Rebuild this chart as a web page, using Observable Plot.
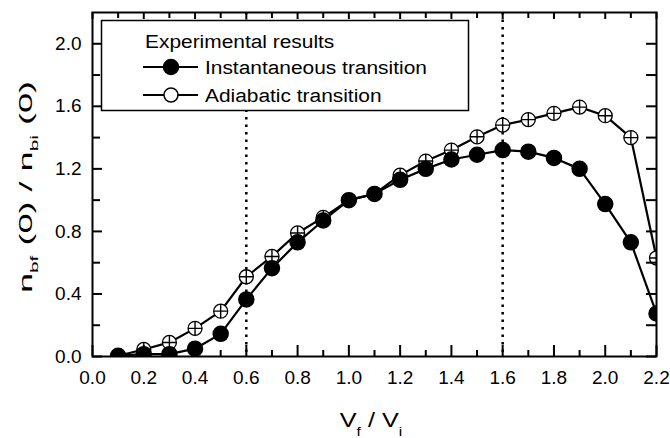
<!DOCTYPE html>
<html>
<head>
<meta charset="utf-8">
<script src="https://cdn.jsdelivr.net/npm/d3@7"></script>
<script src="https://cdn.jsdelivr.net/npm/@observablehq/plot@0.6"></script>
<style>
  html, body { margin: 0; padding: 0; background: #fff; }
  svg text { font-family: "Liberation Sans", Arial, sans-serif; }
</style>
</head>
<body>
<div id="chart"></div>
<script>
// ---- data ----
const ratio = [0.1, 0.2, 0.3, 0.4, 0.5, 0.6, 0.7, 0.8, 0.9, 1.0, 1.1,
               1.2, 1.3, 1.4, 1.5, 1.6, 1.7, 1.8, 1.9, 2.0, 2.1, 2.2];
const instantaneous = [0.005, 0.015, 0.015, 0.05, 0.145, 0.365, 0.565, 0.73, 0.87, 1.0, 1.04,
                       1.13, 1.20, 1.26, 1.29, 1.32, 1.31, 1.27, 1.20, 0.975, 0.73, 0.275];
const adiabatic = [0.005, 0.045, 0.09, 0.18, 0.29, 0.51, 0.64, 0.79, 0.89, 1.0, 1.04,
                   1.16, 1.25, 1.32, 1.405, 1.48, 1.515, 1.555, 1.595, 1.54, 1.40, 0.63];
const markerLines = [0.6, 1.6];
const xMajorTicks = [0.0, 0.2, 0.4, 0.6, 0.8, 1.0, 1.2, 1.4, 1.6, 1.8, 2.0, 2.2];
const xMinorTicks = [0.1, 0.3, 0.5, 0.7, 0.9, 1.1, 1.3, 1.5, 1.7, 1.9, 2.1];
const yMajorTicks = [0.0, 0.4, 0.8, 1.2, 1.6, 2.0];
const yMinorTicks = [0.2, 0.6, 1.0, 1.4, 1.8];
const legendTitle = "Experimental results";
const seriesNames = ["Instantaneous transition", "Adiabatic transition"];

const instData = ratio.map((x, i) => ({x, y: instantaneous[i]}));
const adiaData = ratio.map((x, i) => ({x, y: adiabatic[i]}));

// ---- layout ----
const W = 670, H = 438;
const mL = 92, mR = 14, mT = 12, mB = 82;
const pW = W - mL - mR, pH = H - mT - mB;

const plusSymbol = {
  draw(ctx, size) {
    const r = Math.sqrt(size / Math.PI);
    ctx.moveTo(-r, 0); ctx.lineTo(r, 0);
    ctx.moveTo(0, -r); ctx.lineTo(0, r);
  }
};

const svg = Plot.plot({
  width: W, height: H,
  marginLeft: mL, marginRight: mR, marginTop: mT, marginBottom: mB,
  style: {fontFamily: "'Liberation Sans', Arial, sans-serif", background: "white"},
  x: {domain: [0, 2.2]},
  y: {domain: [0, 2.2]},
  marks: [
    Plot.ruleX(markerLines, {stroke: "black", strokeWidth: 2.5, strokeDasharray: "2.5,5"}),
    Plot.line(adiaData, {x: "x", y: "y", stroke: "black", strokeWidth: 2.2, clip: true}),
    Plot.line(instData, {x: "x", y: "y", stroke: "black", strokeWidth: 2.2, clip: true}),
    Plot.dot(adiaData, {x: "x", y: "y", r: 7, fill: "white", stroke: "black", strokeWidth: 1.3, clip: true}),
    Plot.dot(adiaData, {x: "x", y: "y", r: 7, symbol: plusSymbol, fill: "none", stroke: "black", strokeWidth: 1.4, clip: true}),
    Plot.dot(instData, {x: "x", y: "y", r: 7.5, fill: "black", stroke: "black", clip: true}),
    // inward ticks
    Plot.ruleX(xMajorTicks, {stroke: "black", strokeWidth: 2, insetTop: pH - 11}),
    Plot.ruleX(xMinorTicks, {stroke: "black", strokeWidth: 2, insetTop: pH - 6}),
    Plot.ruleX(xMajorTicks, {stroke: "black", strokeWidth: 2, insetBottom: pH - 7}),
    Plot.ruleX(xMinorTicks, {stroke: "black", strokeWidth: 2, insetBottom: pH - 6}),
    Plot.ruleY(yMajorTicks, {stroke: "black", strokeWidth: 2, insetRight: pW - 10}),
    Plot.ruleY(yMinorTicks, {stroke: "black", strokeWidth: 2, insetRight: pW - 8}),
    Plot.ruleY(yMajorTicks, {stroke: "black", strokeWidth: 2, insetLeft: pW - 10}),
    Plot.ruleY(yMinorTicks, {stroke: "black", strokeWidth: 2, insetLeft: pW - 10}),
    Plot.frame({stroke: "black", strokeWidth: 2}),
    Plot.axisX(xMajorTicks, {tickSize: 0, tickPadding: 14, tickFormat: d3.format(".1f"), fontSize: 19, label: null, color: "black"}),
    Plot.axisY(yMajorTicks, {tickSize: 0, tickPadding: 11, tickFormat: d3.format(".1f"), fontSize: 19, label: null, color: "black"})
  ]
});

// ---- legend + axis titles ----
const s = d3.select(svg);
const lg = s.append("g");
lg.append("rect").attr("x", 101.5).attr("y", 20.5).attr("width", 367).attr("height", 90)
  .attr("fill", "white").attr("stroke", "black").attr("stroke-width", 1.5);
const txt = (g, x, y, str) => g.append("text")
  .attr("transform", `translate(${x},${y}) scale(1.1,1)`)
  .attr("text-anchor", "start")
  .attr("font-size", 19).attr("fill", "black").text(str);
txt(lg, 145, 48, legendTitle);
[67, 95].forEach((cy, i) => {
  lg.append("line").attr("x1", 143).attr("x2", 198).attr("y1", cy).attr("y2", cy)
    .attr("stroke", "black").attr("stroke-width", 2);
  lg.append("circle").attr("cx", 171).attr("cy", cy).attr("r", i === 0 ? 7.5 : 7)
    .attr("fill", i === 0 ? "black" : "white").attr("stroke", "black").attr("stroke-width", 1.5);
  txt(lg, 205, cy + 7, seriesNames[i]);
});

// x title
const xt = s.append("text")
  .attr("transform", "translate(371,427) scale(1.2,1)")
  .attr("text-anchor", "middle").attr("font-size", 21).attr("fill", "black");
xt.append("tspan").text("V");
xt.append("tspan").attr("font-size", 13).attr("dy", 9).text("f");
xt.append("tspan").attr("dy", -9).text(" / V");
xt.append("tspan").attr("font-size", 13).attr("dy", 9).text("i");

// y title
const yt = s.append("text")
  .attr("transform", "translate(32,187) rotate(-90) scale(1.9,1)")
  .attr("text-anchor", "middle").attr("font-size", 19).attr("fill", "black");
yt.append("tspan").text("n");
yt.append("tspan").attr("font-size", 11).attr("dy", 6).text("bf");
yt.append("tspan").attr("dy", -6).text(" (0) / n");
yt.append("tspan").attr("font-size", 11).attr("dy", 6).text("bi");
yt.append("tspan").attr("dy", -6).text(" (0)");

document.getElementById("chart").appendChild(svg);
</script>
</body>
</html>
